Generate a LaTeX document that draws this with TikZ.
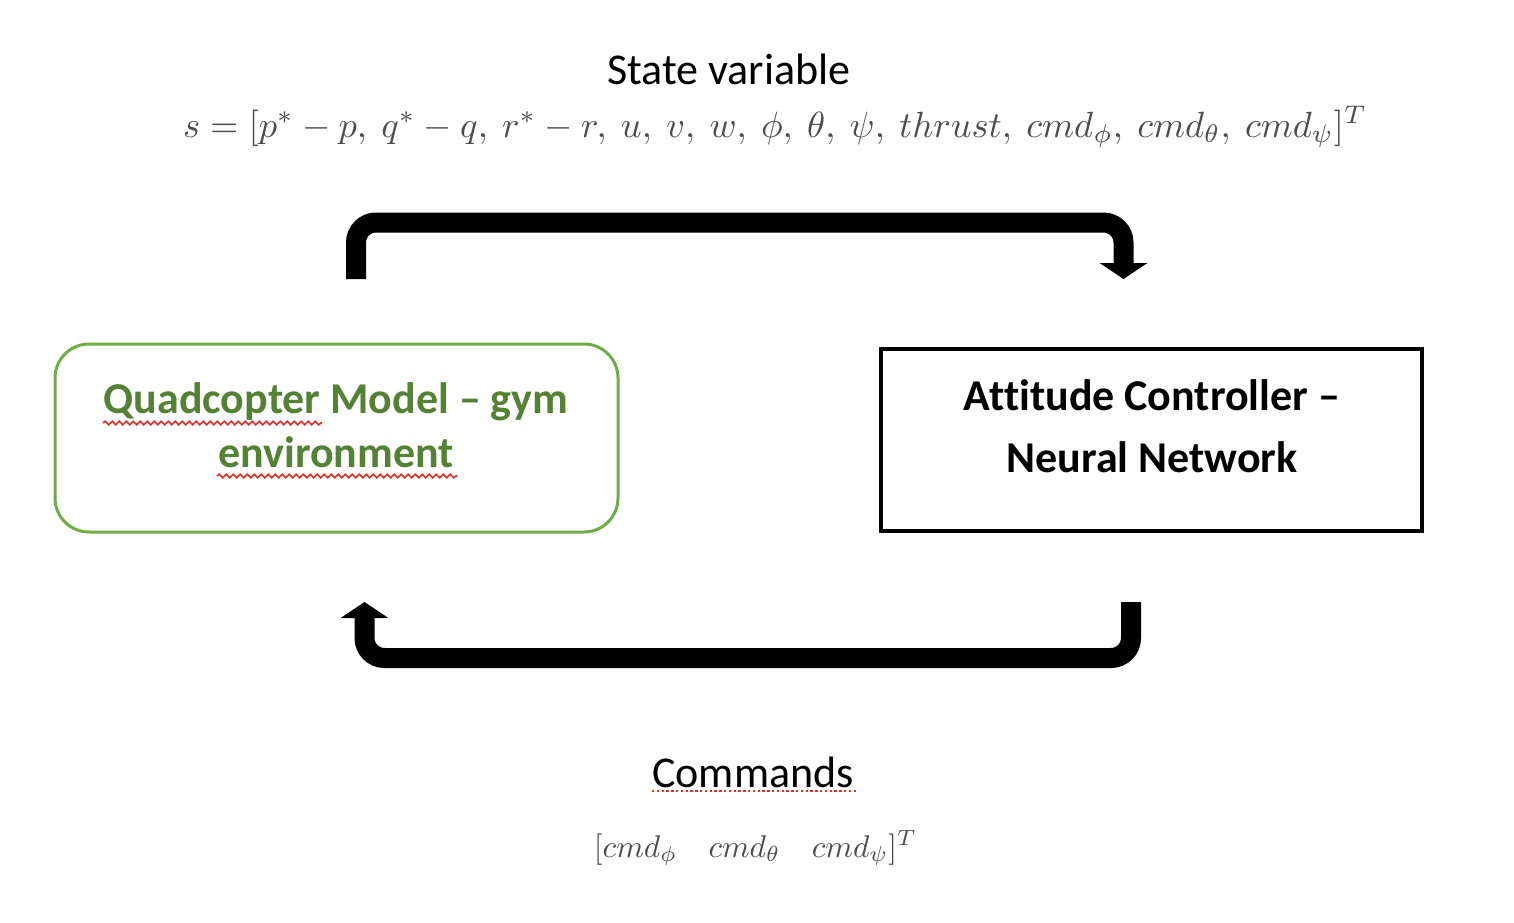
\documentclass[tikz,border=0pt]{standalone}
\usepackage{fontspec}
\setmainfont{Carlito}[Ligatures={TeX,NoCommon}]
\usetikzlibrary{arrows.meta,decorations.pathmorphing}
\definecolor{gframe}{HTML}{70AD47}
\definecolor{gtext}{HTML}{548235}
\definecolor{squig}{HTML}{E0302A}
\definecolor{mathgray}{gray}{0.3}
\begin{document}
\begin{tikzpicture}[x=0.5pt,y=-0.5pt,
  lbl/.style={font=\fontsize{22}{26}\selectfont, anchor=base, inner sep=0pt},
  boldlbl/.style={font=\fontsize{22}{26}\selectfont\bfseries, anchor=base, inner sep=0pt},
  flow/.style={line width=10pt, rounded corners=10pt, -{Triangle[width=23.5pt,length=8pt]}},
  squiggle/.style={squig, line width=0.8pt, decorate, decoration={snake, amplitude=0.9pt, segment length=3.5pt}},
]
\useasboundingbox[fill=white] (0,0) rectangle (1514,922);

% boxes
\node[draw=gframe, line width=1.5pt, rounded corners=17pt, minimum width=281.5pt, minimum height=94pt, inner sep=0pt] (quad) at (336.5,438) {};
\node[draw, line width=1.75pt, minimum width=270.5pt, minimum height=91pt, inner sep=0pt] (ctrl) at (1151.5,440) {};

% box texts
\node[boldlbl, text=gtext] (q1) at (336,413) {Quadcopter Model – gym};
\node[boldlbl, text=gtext] (q2) at (336,467) {environment};
\node[boldlbl] (c1) at (1152,410) {Attitude Controller –};
\node[boldlbl] (c2) at (1152,472) {Neural Network};

% labels
\node[lbl] (sv) at (729,84) {State variable};
\node[anchor=base, inner sep=0pt, text=mathgray] (eq) at (775,137)
  {\resizebox{592pt}{!}{$s = [p^* - p,\ q^* - q,\ r^* - r,\ u,\ v,\ w,\ \phi,\ \theta,\ \psi,\ thrust,\ cmd_\phi,\ cmd_\theta,\ cmd_\psi]^T$}};
\node[lbl] (cm) at (753,787) {Commands};
\node[anchor=base, inner sep=0pt, text=mathgray] (cmeq) at (755.5,857)
  {\resizebox{161.5pt}{!}{$[cmd_\phi \quad cmd_\theta \quad cmd_\psi]^T$}};

% spell-check marks
\draw[squiggle] (103,423) -- (322,423);
\draw[squiggle] (217,476) -- (457,476);
\draw[squig, line width=0.9pt, dash pattern=on 1.2pt off 1.2pt] (652,791) -- (856,791);

% connectors
\coordinate (topS) at (356,279);
\coordinate (topE) at (1123.5,279);
\coordinate (botS) at (1131,602);
\coordinate (botE) at (364.5,602);
\draw[flow] (topS) -- (356,222.5) -- (1123.5,222.5) -- (topE);
\draw[flow] (botS) -- (1131,658) -- (364.5,658) -- (botE);
\end{tikzpicture}
\end{document}
